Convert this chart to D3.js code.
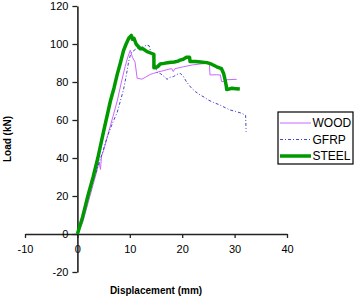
<!DOCTYPE html>
<html>
<head>
<meta charset="utf-8">
<script src="https://d3js.org/d3.v7.min.js"></script>
<style>
  body { margin: 0; background: #fff; }
  text { font-family: "Liberation Sans", Arial, sans-serif; }
</style>
</head>
<body>
<script>
// ---- data ----
const xTicks = [-10, 0, 10, 20, 30, 40];
const yTicks = [-20, 0, 20, 40, 60, 80, 100, 120];
const seriesNames = ["WOOD", "GFRP", "STEEL"];

const woodX = [0, 1, 2, 3, 3.8, 4.1, 4.4, 4.6, 5, 5.8, 6.8, 7.6, 8.4, 9.1, 9.6, 10.1, 10.5, 11, 11.4, 12.3, 13, 13.9, 14.5, 15.5, 16.5, 17.5, 18, 18.3, 18.6, 20.2, 22, 23.5, 24.7, 25.2, 25.3, 26.5, 27.3, 27.5, 28.3, 28.5, 30.4];
const woodY = [0, 6, 16, 26, 34, 38, 34, 41, 44, 52, 62, 70, 80, 88, 93, 96.8, 93, 90.5, 82, 81.5, 82.5, 84, 84.5, 85.4, 86, 86.8, 87, 85.5, 87, 88, 89, 89.5, 89.8, 89.8, 83.7, 83.8, 83.7, 80.3, 80.3, 81.2, 81.4];

const gfrpX = [0, 1.2, 2.2, 3.5, 4.8, 5.8, 6.8, 7.6, 8.2, 8.8, 9.3, 9.8, 10.2, 10.5, 11, 11.4, 12.5, 13.3, 13.7, 13.9, 14.5, 15.2, 15.8, 16.5, 17.1, 17.7, 18.3, 19, 19.6, 20.2, 20.8, 21.8, 22.5, 23.4, 24.2, 25, 26, 27.2, 28.2, 29.1, 30.2, 31.4, 32.1, 32.2];
const gfrpY = [0, 12, 22, 32, 43, 52, 59, 64, 70, 76, 83, 91, 95, 96, 97, 97.8, 98.5, 99.5, 99, 96.8, 92, 85, 84.5, 83, 81.4, 82.5, 82.8, 84, 84.6, 83, 80.2, 76.7, 75, 73.2, 72, 70.5, 69.2, 67.9, 66.5, 65.3, 64.5, 63.5, 62.5, 53.8];

const steelX = [0, 1, 2, 3, 3.9, 5, 6.3, 7, 7.6, 8.2, 8.8, 9.3, 9.8, 10.3, 10.5, 10.8, 11.2, 12, 12.5, 13.3, 14.2, 14.6, 14.6, 15.3, 15.8, 16.5, 17.5, 18.5, 19.2, 19.6, 20.2, 20.8, 21.4, 21.5, 22.5, 23.5, 24.7, 25.5, 26.6, 27.5, 27.9, 28.2, 28.4, 28.5, 29.5, 30.2, 31];
const steelY = [0, 9, 20, 30, 40, 54, 70, 77, 84, 90, 96.5, 100, 103, 104.5, 102.5, 103, 100, 97.5, 97.5, 96, 95, 94.5, 87.5, 88, 89.5, 89.8, 90.3, 90.5, 91, 91.5, 92, 93, 93, 90.8, 90.8, 90.5, 90.2, 89.5, 88, 87, 84.5, 81, 78, 76, 76.7, 76.5, 76.3];

const width = 354, height = 297;

let svg = d3.select("body").append("svg")
    .attr("width", width)
    .attr("height", height);

let x = d3.scaleLinear().domain([-10, 40]).range([25, 287]);
let y = d3.scaleLinear().domain([-20, 120]).range([272, 6]);

// axes cross at the origin, plain hyphen for negatives
let fmt = d => String(d);
let xAxis = d3.axisBottom(x).tickValues(xTicks).tickFormat(fmt).tickSize(4).tickPadding(7).tickSizeOuter(0);
let yAxis = d3.axisLeft(y).tickValues(yTicks).tickFormat(fmt).tickSize(5).tickPadding(4).tickSizeOuter(0);

let gx = svg.append("g").attr("transform", `translate(0,${y(0)})`).call(xAxis);
let gy = svg.append("g").attr("transform", `translate(${x(0)},0)`).call(yAxis);

[gx, gy].forEach(g => {
    g.select(".domain").attr("stroke", "#222").attr("stroke-width", 1.6);
    g.selectAll(".tick line").attr("stroke", "#222").attr("stroke-width", 1.3);
    g.selectAll(".tick text")
        .attr("fill", "#000")
        .style("font-size", "11px")
        .style("font-family", "'Liberation Sans', Arial, sans-serif");
});

// curves
let line = d3.line().x(d => x(d[0])).y(d => y(d[1]));
let zip = (xs, ys) => xs.map((v, i) => [v, ys[i]]);

let series = [
    {name: "WOOD", pts: zip(woodX, woodY), color: "#cc66ff", w: 1, dash: null},
    {name: "GFRP", pts: zip(gfrpX, gfrpY), color: "#4444cc", w: 1, dash: "3,2,1,2"},
    {name: "STEEL", pts: zip(steelX, steelY), color: "#009900", w: 3.5, dash: null}
];

svg.selectAll("path.curve")
    .data(series)
    .join("path")
        .attr("class", "curve")
        .attr("d", d => line(d.pts))
        .attr("fill", "none")
        .attr("stroke", d => d.color)
        .attr("stroke-width", d => d.w)
        .attr("stroke-dasharray", d => d.dash)
        .attr("stroke-linejoin", "round");

// axis titles
svg.append("text")
    .attr("x", 156)
    .attr("y", 294)
    .attr("text-anchor", "middle")
    .style("font-size", "10px")
    .style("font-weight", "bold")
    .text("Displacement (mm)");

svg.append("text")
    .attr("transform", "translate(11,139) rotate(-90)")
    .attr("text-anchor", "middle")
    .style("font-size", "10px")
    .style("font-weight", "bold")
    .text("Load (kN)");

// legend
let legend = svg.append("g").attr("transform", "translate(278,112)");
legend.append("rect")
    .attr("width", 75)
    .attr("height", 52)
    .attr("fill", "#fff")
    .attr("stroke", "#000")
    .attr("stroke-width", 1.2);

let items = legend.selectAll("g.item")
    .data(series)
    .join("g")
        .attr("class", "item")
        .attr("transform", (d, i) => `translate(0,${11 + i * 16.5})`);

items.append("line")
    .attr("x1", 2).attr("x2", 33)
    .attr("stroke", d => d.color)
    .attr("stroke-width", d => d.w)
    .attr("stroke-dasharray", d => d.dash);

items.append("text")
    .attr("x", 34.5)
    .attr("dy", "0.36em")
    .style("font-size", "12px")
    .text(d => d.name);
</script>
</body>
</html>
